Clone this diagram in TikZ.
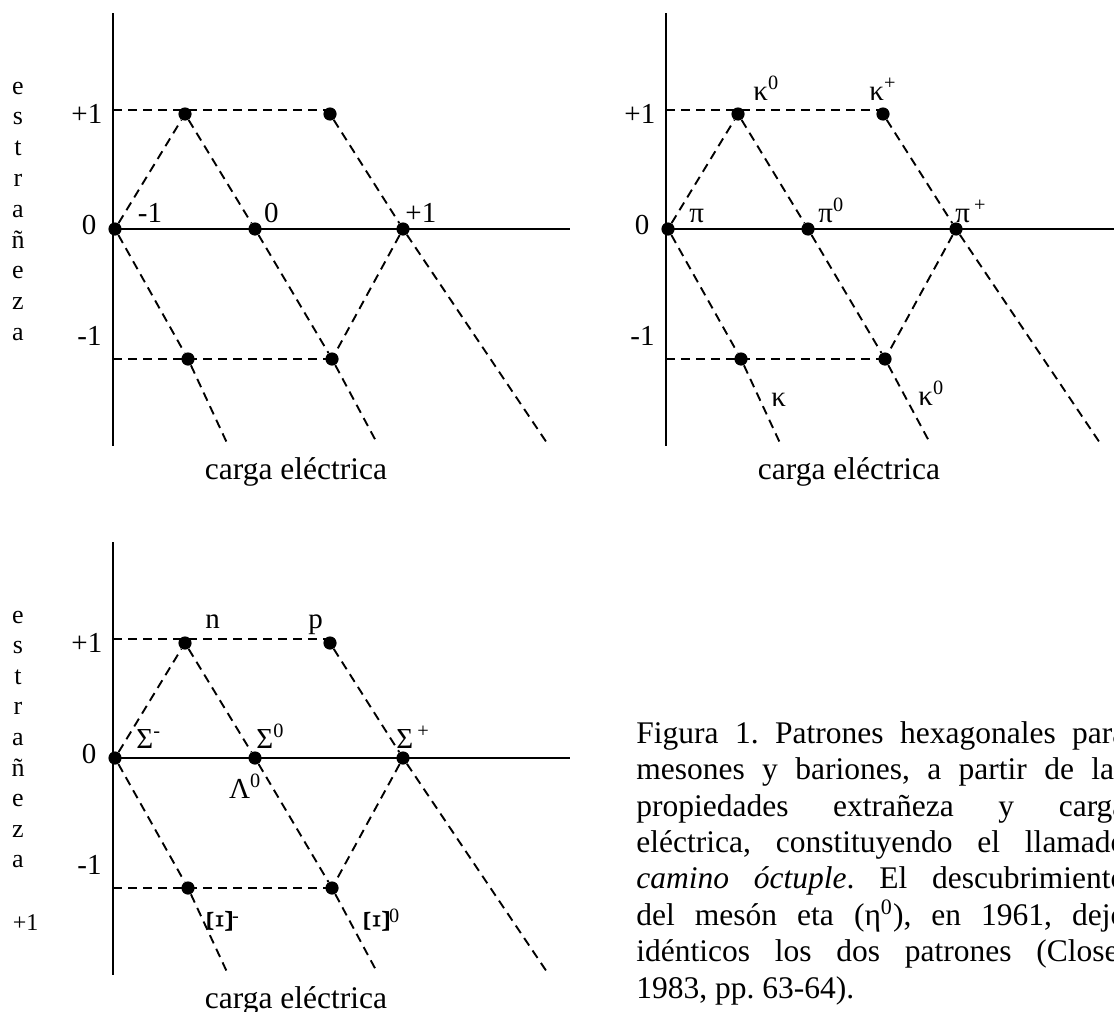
\documentclass[tikz,border=0pt]{standalone}
\usepackage{fontspec}
\setmainfont{Liberation Serif}
\usepackage{graphicx}

\newcommand{\capfont}{\fontsize{15.75pt}{18.2pt}\selectfont}
\newcommand{\lblfont}{\fontsize{14.5pt}{17pt}\selectfont}
\newcommand{\letfont}{\fontsize{13pt}{15.5pt}\selectfont}
\newcommand{\xisym}{\scalebox{1.3}{\rotatebox{90}{Ξ}}}

% one strangeness / charge lattice, nodes named with prefix #1
\newcommand{\octetgrid}[1]{%
  % axes
  \coordinate (#1top) at (0,-216);
  \coordinate (#1bot) at (0,217);
  \coordinate (#1org) at (0,0);
  \coordinate (#1end) at (457,0);
  \draw[axis] (#1top) -- (#1bot);
  \draw[axis] (#1org) -- (#1end);
  % particles
  \node[dot] (#1a) at (2,0) {};
  \node[dot] (#1b) at (142,0) {};
  \node[dot] (#1c) at (290,0) {};
  \node[dot] (#1d) at (72,-115) {};
  \node[dot] (#1e) at (217,-115) {};
  \node[dot] (#1f) at (75,130) {};
  \node[dot] (#1g) at (219,130) {};
  % free ends of the guides
  \coordinate (#1up) at (0,-119);
  \coordinate (#1dn) at (0,130);
  \coordinate (#1tf) at (114,214);
  \coordinate (#1tg) at (264,214);
  \coordinate (#1tc) at (434,214);
  % guides
  \draw[guide] (#1up) -- (#1up -| #1e);
  \draw[guide] (#1dn) -- (#1g.center);
  \draw[guide] (#1a) -- (#1d);
  \draw[guide] (#1d) -- (#1b) -- (#1g) -- (#1tg);
  \draw[guide] (#1e) -- (#1c) -- (#1tc);
  \draw[guide] (#1a) -- (#1f) -- (#1tf);
  \draw[guide] (#1c) -- (#1g);
  % strangeness values
  \node[lbl] (#1sp) at (-42,-106) {+1};
  \node[lbl] (#1sz) at (-31.6,5.5) {0};
  \node[lbl] (#1sm) at (-36,116) {-1};
  \node[axtitle] (#1xt) at (183,250) {carga eléctrica};
}

\begin{document}
\begin{tikzpicture}[x=0.5pt, y=-0.5pt,
    axis/.style={line width=1.3pt},
    guide/.style={line width=0.95pt, dash pattern=on 4.5pt off 3pt},
    dot/.style={circle, fill=black, inner sep=0pt, minimum size=6.6pt},
    lbl/.style={font=\lblfont, inner sep=0pt, anchor=base west},
    letter/.style={font=\letfont, inner sep=0pt, anchor=base},
    axtitle/.style={font=\capfont, inner sep=0pt, anchor=base}]
  \useasboundingbox (0,0) rectangle (1114,1012);

  % Charge values
  \begin{scope}[shift={(113,229)}]
    \octetgrid{ch}
    \foreach \ch [count=\i from 0] in {e,s,t,r,a,ñ,e,z,a}
      \node[letter] (chs\i) at (-95,{-135+30.8*\i}) {\ch};
    \node[lbl] (chqm) at (24.5,-7) {-1};
    \node[lbl] (chqz) at (150.6,-7) {0};
    \node[lbl] (chqp) at (292,-7) {+1};
  \end{scope}

  % Mesons
  \begin{scope}[shift={(666,229)}]
    \octetgrid{ms}
    \node[lbl] (kzu) at (87,-129) {κ\textsuperscript{0}};
    \node[lbl] (kp) at (203,-129) {κ\textsuperscript{+}};
    \node[lbl] (pim) at (23,-7) {π};
    \node[lbl] (piz) at (152,-7) {π\textsuperscript{0}};
    \node[lbl] (pip) at (289,-7) {π\kern2pt\textsuperscript{+}};
    \node[lbl] (km) at (105,177) {κ};
    \node[lbl] (kzd) at (252,176) {κ\textsuperscript{0}};
  \end{scope}

  % Baryons
  \begin{scope}[shift={(113,758)}]
    \octetgrid{br}
    \foreach \ch [count=\i from 0] in {e,s,t,r,a,ñ,e,z,a}
      \node[letter] (brs\i) at (-95,{-135+30.6*\i}) {\ch};
    \node[lbl, font=\fontsize{12pt}{14pt}\selectfont] (brextra) at (-100.5,172) {+1};
    \node[lbl] (neu) at (92,-130) {n};
    \node[lbl] (pro) at (195,-130) {p};
    \node[lbl] (sgm) at (23,-10) {Σ\textsuperscript{-}};
    \node[lbl] (sgz) at (143,-10) {Σ\textsuperscript{0}};
    \node[lbl] (sgp) at (283,-10) {Σ\kern2pt\textsuperscript{+}};
    \node[lbl] (lmz) at (115.6,40) {Λ\textsuperscript{0}};
    \node[lbl] (xim) at (94,175) {\xisym\textsuperscript{-}};
    \node[lbl] (xiz) at (251,175) {\xisym\textsuperscript{0}};
  \end{scope}

  % Caption
  \node[font=\capfont, text width=245pt, align=justify, anchor=north west,
        inner sep=0pt] (caption) at (636,721)
    {\tolerance=10000 \hyphenpenalty=10000 \exhyphenpenalty=10000 \frenchspacing
     Figura 1. Patrones hexagonales para\linebreak
     mesones y bariones, a partir de las\linebreak
     propiedades extrañeza y carga\linebreak
     eléctrica, constituyendo el llamado\linebreak
     \textit{camino óctuple}. El descubrimiento\linebreak
     del mesón eta (η\textsuperscript{0}), en 1961, dejó\linebreak
     idénticos los dos patrones (Close,\linebreak
     1983, pp. 63-64).};
\end{tikzpicture}
\end{document}
